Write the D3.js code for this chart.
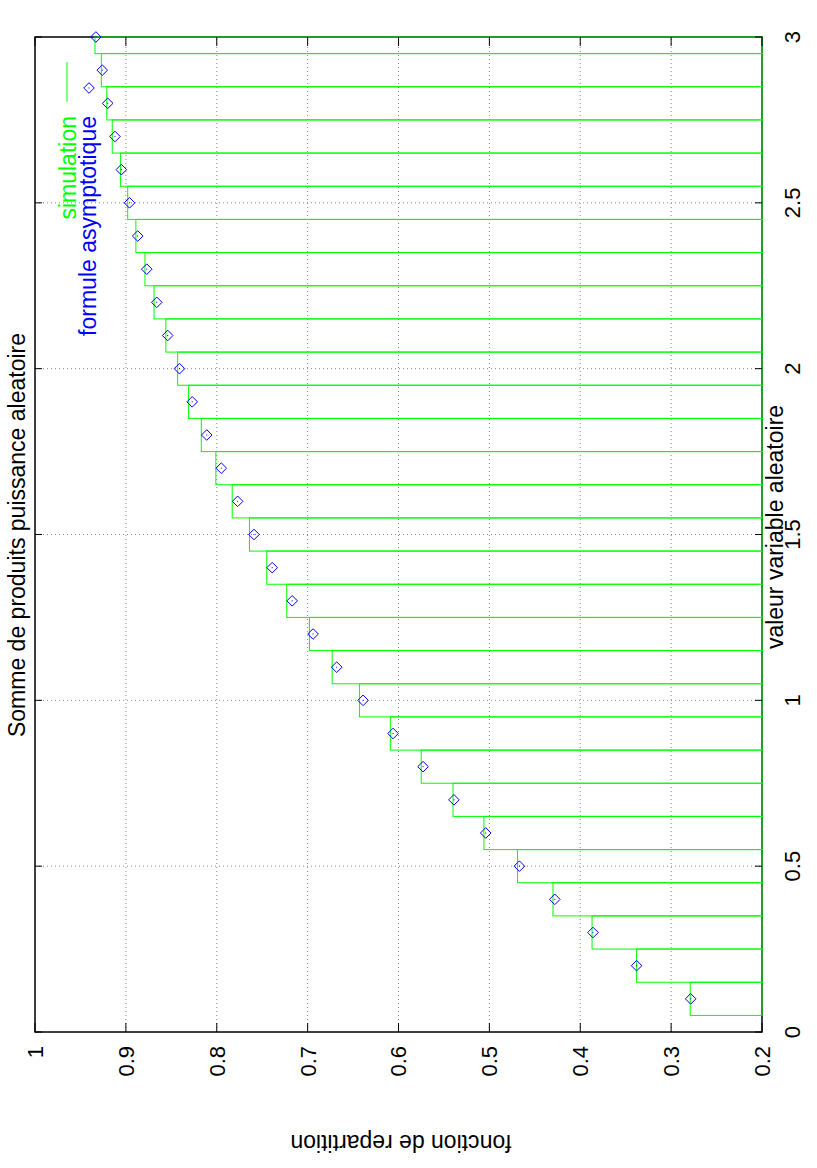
<!DOCTYPE html>
<html><head><meta charset="utf-8">
<script src="https://cdn.jsdelivr.net/npm/d3@7"></script>
<style>body{margin:0;background:#fff}svg{display:block}text{font-family:"Liberation Sans",Arial,Helvetica,sans-serif}</style>
</head><body>
<script>
// Data
const xValues = [0.1,0.2,0.3,0.4,0.5,0.6,0.7,0.8,0.9,1.0,1.1,1.2,1.3,1.4,1.5,1.6,1.7,1.8,1.9,2.0,2.1,2.2,2.3,2.4,2.5,2.6,2.7,2.8,2.9,3.0];
const simulation = [0.279,0.338,0.387,0.430,0.469,0.506,0.540,0.575,0.609,0.643,0.673,0.698,0.723,0.745,0.764,0.783,0.801,0.817,0.831,0.843,0.856,0.869,0.879,0.889,0.898,0.906,0.915,0.921,0.927,0.934];
const formule = [0.2785,0.338,0.386,0.428,0.467,0.504,0.539,0.573,0.606,0.639,0.668,0.694,0.717,0.739,0.759,0.777,0.795,0.811,0.827,0.841,0.854,0.866,0.877,0.887,0.896,0.905,0.912,0.920,0.926,0.933];
const xTicks = [0,0.5,1,1.5,2,2.5,3];
const yTicks = [0.2,0.3,0.4,0.5,0.6,0.7,0.8,0.9,1];
const xGrid = [0.5,1,1.5,2,2.5];
const yGrid = [0.3,0.4,0.5,0.6,0.7,0.8,0.9];
const boxWidth = 0.1;
const title = "Somme de produits puissance aleatoire";
const xLabel = "valeur variable aleatoire";
const yLabel = "fonction de repartition";
const seriesNames = ["simulation","formule asymptotique"];

const PW = 817, PH = 1168;
const svg = d3.select("body").append("svg").attr("width",PW).attr("height",PH);
// landscape chart rotated 90° counter-clockwise
const g = svg.append("g").attr("transform",`translate(0,${PH}) rotate(-90)`);

const L = 136, R = 1131, T = 35, B = 762;
const x = d3.scaleLinear().domain([0,3]).range([L,R]);
const y = d3.scaleLinear().domain([0.2,1]).range([B,T]);
const green = "#00ff00", blue = "#0000ff";
const fs = 22, fl = 23;

// grid
g.append("g").selectAll("line").data(xGrid).join("line")
  .attr("x1",d=>x(d)).attr("x2",d=>x(d)).attr("y1",T).attr("y2",B)
  .attr("stroke","#888").attr("stroke-width",1).attr("stroke-dasharray","1,3");
g.append("g").selectAll("line").data(yGrid).join("line")
  .attr("x1",L).attr("x2",R).attr("y1",d=>y(d)).attr("y2",d=>y(d))
  .attr("stroke","#888").attr("stroke-width",1).attr("stroke-dasharray","1,3");

// frame
g.append("rect").attr("x",L).attr("y",T).attr("width",R-L).attr("height",B-T)
  .attr("fill","none").attr("stroke","#000").attr("stroke-width",1.5);

// boxes (clipped to the plot range)
g.append("g").selectAll("rect").data(xValues.map((v,i)=>({x:v,v:simulation[i]}))).join("rect")
  .attr("x",d=>x(Math.max(0,d.x-boxWidth/2)))
  .attr("width",d=>x(Math.min(3,d.x+boxWidth/2))-x(Math.max(0,d.x-boxWidth/2)))
  .attr("y",d=>y(d.v)).attr("height",d=>y(0.2)-y(d.v))
  .attr("fill","none").attr("stroke",green).attr("stroke-width",1);

// ticks
const tk = g.append("g").attr("stroke","#000").attr("stroke-width",1);
xTicks.forEach(t=>{
  tk.append("line").attr("x1",x(t)).attr("x2",x(t)).attr("y1",B).attr("y2",B-7);
  tk.append("line").attr("x1",x(t)).attr("x2",x(t)).attr("y1",T).attr("y2",T+7);
});
yTicks.forEach(t=>{
  tk.append("line").attr("x1",L).attr("x2",L+9).attr("y1",y(t)).attr("y2",y(t));
  tk.append("line").attr("x1",R).attr("x2",R-9).attr("y1",y(t)).attr("y2",y(t));
});

// tick labels
g.append("g").selectAll("text").data(xTicks).join("text")
  .attr("x",d=>x(d)).attr("y",800).attr("text-anchor","middle")
  .attr("font-size",fs).text(d=>d3.format("")(d));
g.append("g").selectAll("text").data(yTicks).join("text")
  .attr("x",L-14).attr("y",d=>y(d)).attr("dy","0.36em").attr("text-anchor","end")
  .attr("font-size",fs).text(d=>d3.format("")(d));

// diamonds
const dg = g.append("g");
const diamond = (cx,cy)=>{
  const s=5.3;
  dg.append("path").attr("d",`M${cx-s},${cy}L${cx},${cy-s}L${cx+s},${cy}L${cx},${cy+s}Z`)
    .attr("fill","none").attr("stroke",blue).attr("stroke-width",1);
  dg.append("rect").attr("x",cx-0.5).attr("y",cy-0.5).attr("width",1).attr("height",1).attr("fill",blue);
};
xValues.forEach((v,i)=>diamond(x(v),y(formule[i])));

// legend
g.append("text").attr("x",1052).attr("y",76).attr("text-anchor","end").attr("font-size",fl)
  .attr("fill",green).text(seriesNames[0]);
g.append("line").attr("x1",1066).attr("x2",1106).attr("y1",67).attr("y2",67)
  .attr("stroke",green).attr("stroke-width",1);
g.append("text").attr("x",1052).attr("y",96).attr("text-anchor","end").attr("font-size",fl)
  .attr("fill",blue).text(seriesNames[1]);
diamond(1080,89);

// titles
g.append("text").attr("x",633).attr("y",25).attr("text-anchor","middle").attr("font-size",fl).text(title);
g.append("text").attr("x",641).attr("y",783).attr("text-anchor","middle").attr("font-size",fl).text(xLabel);
g.append("text").attr("transform","translate(33,401) rotate(-90)").attr("text-anchor","middle").attr("font-size",fl).text(yLabel);
</script>
</body></html>
